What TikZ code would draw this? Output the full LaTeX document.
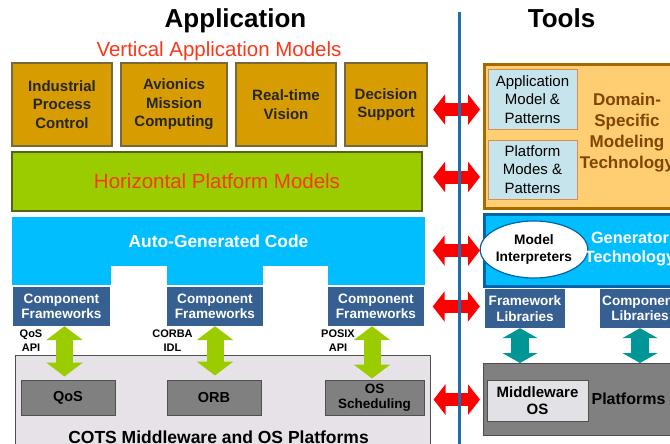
\documentclass[tikz,border=0pt]{standalone}
\usepackage{fontspec}
\setmainfont{Liberation Sans}
\usetikzlibrary{arrows.meta,shapes.geometric}

\definecolor{appgold}{RGB}{214,156,0}
\definecolor{goldline}{RGB}{120,105,60}
\definecolor{platgreen}{RGB}{155,204,0}
\definecolor{greenline}{RGB}{85,100,20}
\definecolor{modelred}{RGB}{250,55,25}
\definecolor{gencyan}{RGB}{0,190,255}
\definecolor{fwblue}{RGB}{54,96,146}
\definecolor{cotsgray}{RGB}{230,226,232}
\definecolor{boxgray}{RGB}{128,128,128}
\definecolor{edgegray}{RGB}{80,80,80}
\definecolor{dividerblue}{RGB}{30,110,175}
\definecolor{dsmlorange}{RGB}{255,206,115}
\definecolor{dsmlline}{RGB}{165,105,0}
\definecolor{dsmlbrown}{RGB}{128,70,0}
\definecolor{patblue}{RGB}{198,228,236}
\definecolor{patline}{RGB}{215,140,80}
\definecolor{genline}{RGB}{0,100,170}
\definecolor{libteal}{RGB}{0,150,150}
\definecolor{mwgray}{RGB}{225,225,230}

\tikzset{
  headtext/.style={font=\bfseries\fontsize{26}{30}\selectfont},
  modeltext/.style={text=modelred, font=\fontsize{20.5}{24}\selectfont},
  appbox/.style={rectangle, fill=appgold, draw=goldline, line width=1.2pt, align=center, text=black!85, font=\bfseries\fontsize{15}{18.5}\selectfont},
  hpmbox/.style={rectangle, fill=platgreen, draw=greenline, line width=1.2pt},
  autogenbox/.style={rectangle, fill=gencyan, text=white, font=\bfseries\fontsize{17.4}{20}\selectfont},
  fwbox/.style={rectangle, fill=fwblue, text=white, align=center, inner sep=1pt, font=\bfseries\fontsize{13.6}{15.5}\selectfont},
  apilabel/.style={align=center, font=\bfseries\fontsize{11}{14}\selectfont},
  cotsbox/.style={rectangle, fill=cotsgray, draw=edgegray, line width=1pt},
  cotstext/.style={font=\bfseries\fontsize{17.5}{20}\selectfont},
  servbox/.style={rectangle, fill=boxgray, draw=edgegray, line width=1pt, align=center, font=\bfseries\fontsize{14.5}{15}\selectfont},
  dsmlbox/.style={rectangle, fill=dsmlorange, draw=dsmlline, line width=3pt},
  patbox/.style={rectangle, fill=patblue, draw=patline, line width=1pt, align=center, font=\fontsize{15}{18.5}\selectfont},
  dsmltext/.style={align=center, text=dsmlbrown, font=\bfseries\fontsize{17}{21}\selectfont},
  genbox/.style={rectangle, fill=gencyan, draw=genline, line width=3pt},
  interpnode/.style={ellipse, fill=white, draw=genline, line width=1.2pt, align=center, inner sep=0pt, font=\bfseries\fontsize{13.7}{17}\selectfont},
  gentext/.style={align=center, text=white, font=\bfseries\fontsize{16.3}{19}\selectfont},
  platbox/.style={rectangle, fill=boxgray, draw=black!70, line width=1.2pt},
  mwbox/.style={rectangle, fill=mwgray, draw=edgegray, line width=1pt, align=center, font=\bfseries\fontsize{15}{17}\selectfont},
  plattext/.style={font=\bfseries\fontsize{16}{19}\selectfont},
  redarrow/.style={draw=red, line width=13pt, {Triangle[length=12pt,width=30pt]}-{Triangle[length=12pt,width=30pt]}, shorten >=3pt},
  greenarrow/.style={draw=platgreen, line width=17pt, {Triangle[length=14pt,width=36pt]}-{Triangle[length=14pt,width=36pt]}},
  tealarrow/.style={draw=libteal, line width=18pt, {Triangle[length=10pt,width=35pt]}-{Triangle[length=10pt,width=35pt]}}
}

\begin{document}
\begin{tikzpicture}[x=1pt,y=-1pt]
\useasboundingbox (0,0) rectangle (670,444);
\clip (0,0) rectangle (670,444);

\node[headtext, anchor=base] (apptitle) at (235.5,28) {Application};
\node[headtext, anchor=base] (tooltitle) at (561.5,28) {Tools};

% application side
\node[modeltext, anchor=base] (vamlbl) at (219,57) {Vertical Application Models};
\foreach \cx/\w/\nm/\txt in {62/100/ipc/{Industrial\\Process\\Control}, 174/106/amc/{Avionics\\Mission\\Computing}, 286/100/rtv/{Real-time\\Vision}, 386/82/dec/{Decision\\Support}}
    \node[appbox, minimum width=\w, minimum height=83] (\nm) at (\cx,104.5) {\txt};

\node[hpmbox, modeltext, minimum width=410, minimum height=59] (hpm) at (217,181.5) {Horizontal Platform Models};

\node[autogenbox, minimum width=413, minimum height=49] (autogen) at (218.5,241.5) {Auto-Generated Code};
\foreach \xa/\xb in {12/111, 167/263, 328/425}
    \fill[gencyan] (\xa,265) rectangle (\xb,285);

\foreach \cx/\w/\nm in {61.5/97/comp1, 215/96/comp2, 376/96/comp3}
    \node[fwbox, minimum width=\w, minimum height=39] (\nm) at (\cx,306.5) {Component\\Frameworks};

\node[cotsbox, minimum width=415, minimum height=100, anchor=north west] (cots) at (15,355) {};
\node[cotstext, anchor=base] (cotslbl) at (218.5,443) {COTS Middleware and OS Platforms};
\node[servbox, minimum width=94, minimum height=35] (qos) at (68,397.5) {QoS};
\node[servbox, minimum width=94, minimum height=35] (orb) at (214,397.5) {ORB};
\node[servbox, minimum width=99, minimum height=35, font=\bfseries\fontsize{13.5}{15}\selectfont] (ossch) at (374.5,397.5) {OS\\Scheduling};

\node[apilabel] (qosapi) at (31,341) {QoS\\API};
\node[apilabel] (corbaidl) at (172.5,341) {CORBA\\IDL};
\node[apilabel] (posixapi) at (338,341) {POSIX\\API};

\draw[greenarrow, shorten >=3pt] ([xshift=3pt]comp1.south) -- ([xshift=3pt]comp1.south |- qos.north);
\draw[greenarrow, shorten >=4pt] (comp2.south) -- (comp2.south |- orb.north);
\draw[greenarrow, shorten >=1pt] ([xshift=-4pt]comp3.south) -- ([xshift=-4pt]comp3.south |- ossch.north);

% tools side
\node[dsmlbox, minimum width=220, minimum height=144, anchor=north west] (domain) at (483,63) {};
\node[patbox, minimum width=89, minimum height=59] (appmod) at (532.5,99.5) {Application\\Model \&\\Patterns};
\node[patbox, minimum width=89, minimum height=59] (platmod) at (532.5,169.5) {Platform\\Modes \&\\Patterns};
\node[dsmltext] (dsmllbl) at (627,133) {Domain-\\Specific\\Modeling\\Technology};

\node[genbox, minimum width=220, minimum height=72, anchor=north west] (gentech) at (483,213) {};
\node[interpnode, minimum width=96, minimum height=57] (interp) at (534,249.5) {Model\\Interpreters};
\node[gentext] (genlbl) at (630,249) {Generator\\Technology};

\node[fwbox, minimum width=80, minimum height=39] (fwlib) at (525,308.5) {Framework\\Libraries};
\node[fwbox, minimum width=80, minimum height=39] (complib) at (640,308.5) {Component\\Libraries};

\node[platbox, minimum width=220, minimum height=72, anchor=north west] (plat) at (483,363) {};
\node[mwbox, minimum width=101, minimum height=41] (mwos) at (537.5,400.5) {Middleware\\OS};
\node[plattext] (platlbl) at (628.5,398.5) {Platforms};

\draw[tealarrow] ([xshift=-5pt]fwlib.south) -- ([xshift=-5pt]fwlib.south |- plat.north);
\draw[tealarrow] (complib.south) -- (complib.south |- plat.north);

% links between the two sides
\draw[redarrow, shorten <=5.5pt] ([yshift=-5pt]dec.east) -- ([yshift=-5pt]dec.east -| domain.west);
\draw[redarrow, shorten <=10.5pt] ([yshift=4.5pt]hpm.east) -- ([yshift=4.5pt]hpm.east -| domain.west);
\draw[redarrow, shorten <=7.5pt] (autogen.east |- gentech.west) -- (gentech.west);
\draw[redarrow, shorten <=8.5pt, shorten >=5pt] (comp3.east) -- (comp3.east -| fwlib.west);
\draw[redarrow, shorten <=2.5pt] (cots.east |- plat.west) -- (plat.west);

\draw[dividerblue, line width=3pt] (459,12) -- (459,444);

\end{tikzpicture}
\end{document}
